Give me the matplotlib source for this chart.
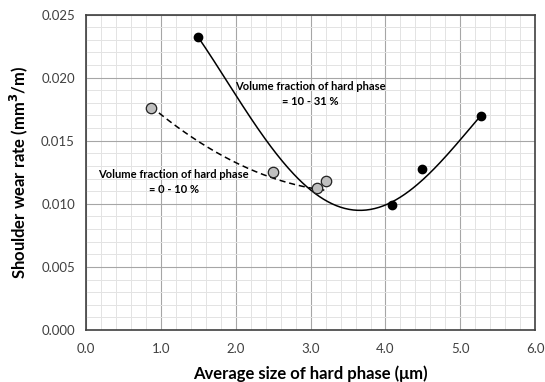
import numpy as np
from matplotlib import pyplot as plt
from matplotlib.ticker import MultipleLocator, FormatStrFormatter

# measured points: wear rate vs hard phase size, two volume-fraction groups
hi_size = [1.50, 4.09, 4.49, 5.28]
hi_wear = [0.0232, 0.00988, 0.01278, 0.01696]
lo_size = [0.87, 2.50, 3.09, 3.20]
lo_wear = [0.0176, 0.01252, 0.01125, 0.01183]

# trend lines (x in um, y in 1e-3 mm3/m)
hi_trend_x = [1.50, 1.74, 1.99, 2.38, 2.69, 2.97, 3.25, 3.65, 4.08, 4.50, 4.99, 5.28]
hi_trend_y = [23.2, 21.0, 18.75, 15.1, 12.9, 11.4, 10.18, 9.44, 9.92, 12.04, 15.08, 16.98]
lo_trend_x = [0.86, 1.25, 1.61, 1.96, 2.23, 2.59, 2.85, 3.15]
lo_trend_y = [17.6, 16.0, 14.95, 13.36, 12.3, 11.77, 11.5, 11.2]

hi_label = 'Volume fraction of hard phase\n= 10 - 31 %'
lo_label = 'Volume fraction of hard phase\n= 0 - 10 %'

plt.rcParams['font.family'] = ['Lato', 'DejaVu Sans']

fig = plt.figure(figsize=(5.45, 3.82), dpi=100)
ax = fig.add_axes([0.158, 0.136, 0.824, 0.826])

# smooth the read trend values with a polynomial
p_hi = np.polyfit(hi_trend_x, np.array(hi_trend_y) / 1000, 4)
xs = np.linspace(min(hi_size), max(hi_size), 200)
ax.plot(xs, np.polyval(p_hi, xs), color='black', lw=1.1, zorder=3)

p_lo = np.polyfit(lo_trend_x, np.array(lo_trend_y) / 1000, 2)
xs2 = np.linspace(min(lo_size), max(lo_size), 200)
ax.plot(xs2, np.polyval(p_lo, xs2), color='black', lw=1.1, ls=(0, (4, 2.5)), zorder=3)

ax.plot(hi_size, hi_wear, 'o', color='black', ms=6, zorder=4)
ax.plot(lo_size, lo_wear, 'o', mfc='#bfbfbf', mec='#222222', mew=0.9, ms=7.5, zorder=5)

ax.text(3.0, 0.0187, hi_label, ha='center', va='center', fontsize=8,
        fontweight='bold', linespacing=1.45, zorder=6)
ax.text(1.17, 0.01175, lo_label, ha='center', va='center', fontsize=8,
        fontweight='bold', linespacing=1.45, zorder=6)

ax.set_xlim(0, 6)
ax.set_ylim(0, 0.025)
ax.xaxis.set_major_locator(MultipleLocator(1))
ax.xaxis.set_minor_locator(MultipleLocator(0.2))
ax.yaxis.set_major_locator(MultipleLocator(0.005))
ax.yaxis.set_minor_locator(MultipleLocator(0.001))
ax.xaxis.set_major_formatter(FormatStrFormatter('%.1f'))
ax.yaxis.set_major_formatter(FormatStrFormatter('%.3f'))
ax.grid(which='major', color='#a6a6a6', lw=0.8)
ax.grid(which='minor', color='#e3e3e3', lw=0.7)
ax.set_axisbelow(True)
ax.tick_params(which='both', length=0, labelsize=9.5, colors='#404040', pad=8)
ax.tick_params(axis='x', pad=9)
for s in ax.spines.values():
    s.set_color('#404040')
    s.set_linewidth(1.2)

ax.set_xlabel('Average size of hard phase (μm)', fontsize=12, fontweight='bold', labelpad=8)
ax.set_ylabel('Shoulder wear rate (mm$^{\\mathbf{3}}$/m)', fontsize=12, fontweight='bold', labelpad=8)

fig.savefig('out.png', dpi=100)
